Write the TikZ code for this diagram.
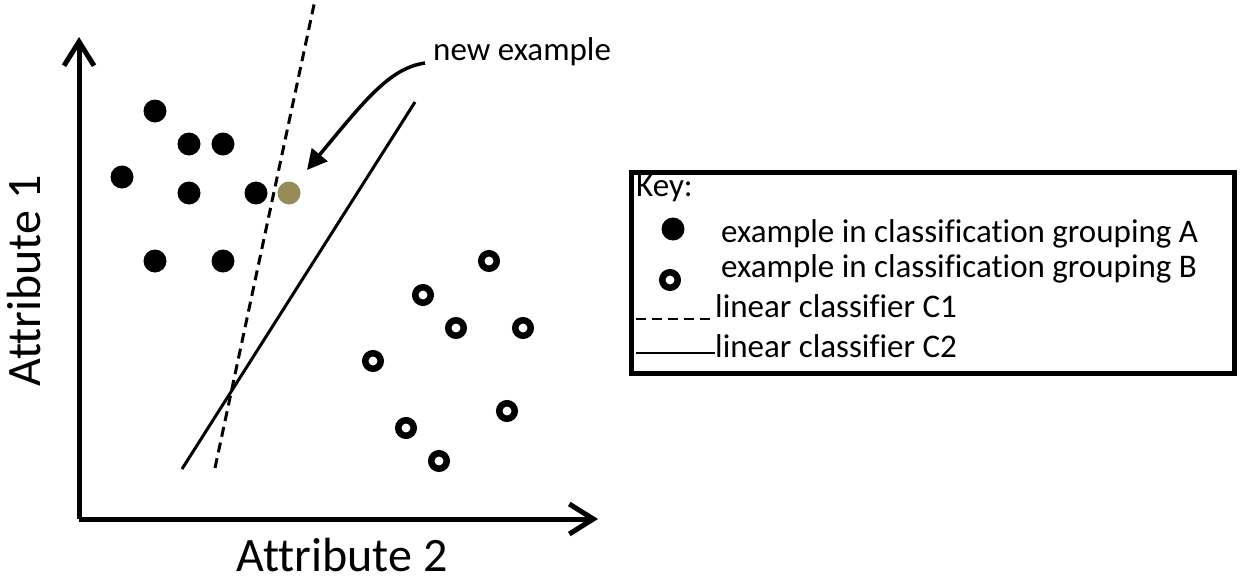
\documentclass[tikz,border=0pt]{standalone}
\usepackage{fontspec}
\setmainfont{Carlito}[Ligatures=CommonOff]
\usetikzlibrary{arrows.meta}
\definecolor{tanpt}{RGB}{151,139,87}
\tikzset{
  dotA/.style={circle,fill=black,inner sep=0pt,minimum size=23pt},
  dotNew/.style={circle,fill=tanpt,inner sep=0pt,minimum size=23pt},
  dotB/.style={circle,draw=black,line width=6.5pt,inner sep=0pt,minimum size=15.5pt},
  axis/.style={line width=5pt,-{Straight Barb[length=24pt,width=30pt,line width=5pt]}},
  big/.style={font=\fontsize{48}{58}\selectfont,inner sep=0pt},
  small/.style={font=\fontsize{33}{40}\selectfont,inner sep=0pt},
  cone/.style={line width=3pt,dash pattern=on 10pt off 6pt},
  ctwo/.style={line width=3pt},
}
\begin{document}
\begin{tikzpicture}[x=1pt,y=-1pt]
\useasboundingbox (0,0) rectangle (1240,581);
% axes
\coordinate (O) at (79,519);
\coordinate (ytip) at (79,37);
\coordinate (xtip) at (598,519);
\draw[axis] (O) -- (ytip);
\draw[axis] (O) -- (xtip);
\node[big,anchor=base] (a2) at (342,571) {Attribute 2};
\node[big,anchor=base,rotate=90] (a1) at (40,281) {Attribute 1};
% classifiers
\coordinate (c1b) at (215,468);
\coordinate (c1t) at (315,0);
\coordinate (c2b) at (182,469);
\coordinate (c2t) at (415,102);
\draw[cone] (c1b) -- (c1t);
\draw[ctwo] (c2b) -- (c2t);
% group A
\node[dotA] (a-1) at (155,111) {};
\node[dotA] (a-2) at (189,144) {};
\node[dotA] (a-3) at (223,144) {};
\node[dotA] (a-4) at (122,177) {};
\node[dotA] (a-5) at (189,193) {};
\node[dotA] (a-6) at (256,193) {};
\node[dotA] (a-7) at (155,261) {};
\node[dotA] (a-8) at (223,261) {};
\node[dotNew] (new) at (289,193) {};
% group B
\node[dotB] (b-1) at (489,261) {};
\node[dotB] (b-2) at (423,295) {};
\node[dotB] (b-3) at (456,328) {};
\node[dotB] (b-4) at (523,328) {};
\node[dotB] (b-5) at (373,361) {};
\node[dotB] (b-6) at (507,411) {};
\node[dotB] (b-7) at (406,428) {};
\node[dotB] (b-8) at (439,461) {};
% new example label
\node[small,anchor=base west] (lbl) at (433,60) {new example};
\coordinate (arrs) at (425,63);
\coordinate (arre) at (307,170);
\draw[line width=3.5pt,-{Triangle[length=20pt,width=20pt]}] (arrs) .. controls (390,68) and (365,100) .. (arre);
% key
\node[draw,line width=4.5pt,minimum width=603pt,minimum height=201pt,inner sep=0pt,anchor=north west] (key) at (629,170) {};
\node[small,anchor=base west] (k0) at (636,196) {Key:};
\node[dotA] (kA) at (673,229) {};
\node[small,anchor=base west] (k1) at (721,242) {example in classification grouping A};
\node[dotB] (kB) at (670,280) {};
\node[small,anchor=base west] (k2) at (721,277) {example in classification grouping B};
\coordinate (kd1) at (636,319);
\coordinate (kd2) at (715,319);
\draw[cone,line width=2.5pt] (kd1) -- (kd2);
\node[small,anchor=base west] (k3) at (715,317) {linear classifier C1};
\coordinate (ks1) at (636,353);
\coordinate (ks2) at (715,353);
\draw[ctwo,line width=2.5pt] (ks1) -- (ks2);
\node[small,anchor=base west] (k4) at (715,357) {linear classifier C2};
\end{tikzpicture}
\end{document}
